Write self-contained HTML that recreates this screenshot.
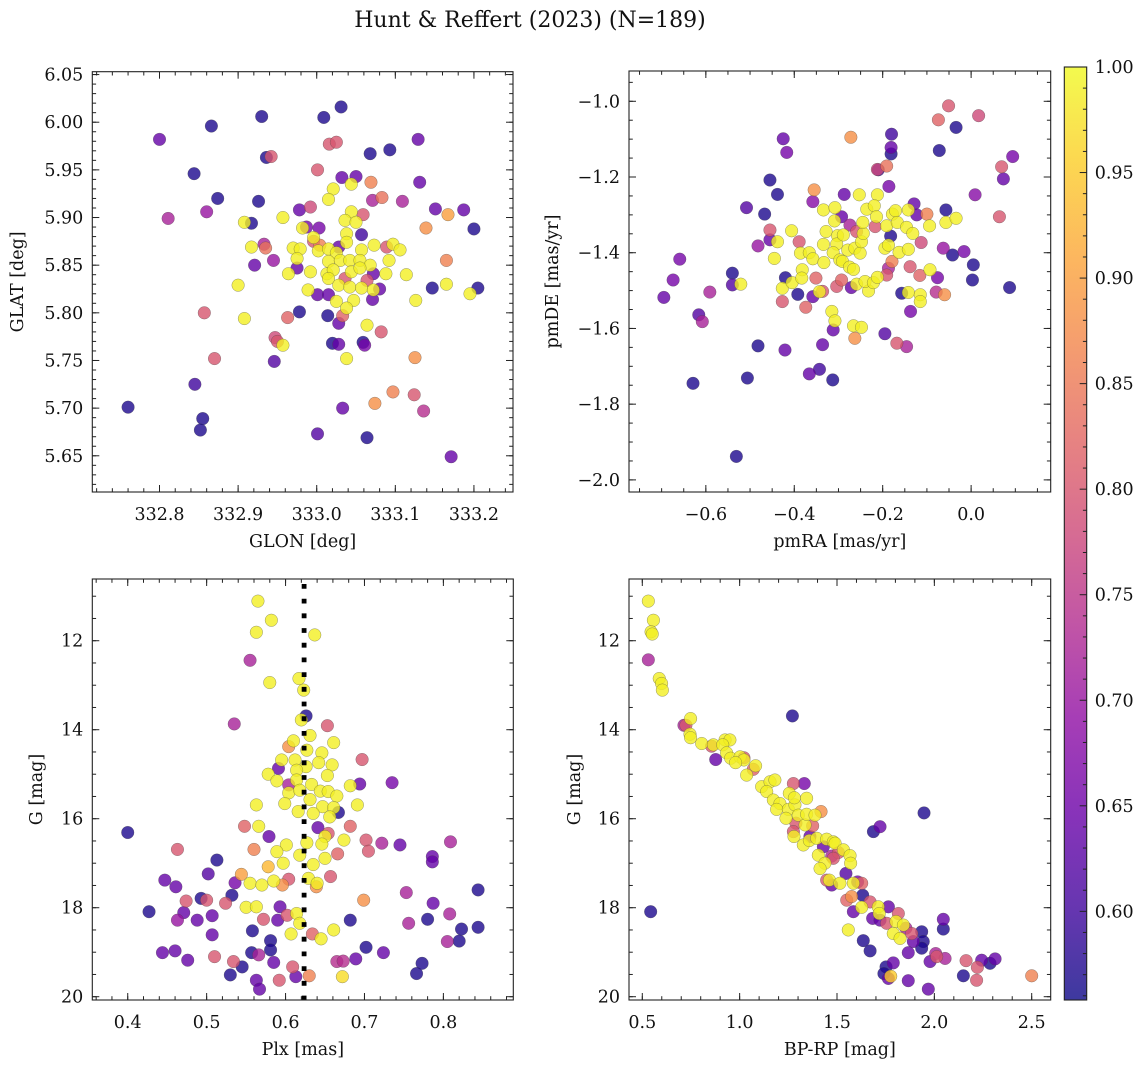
<!DOCTYPE html>
<html><head><meta charset="utf-8"><style>
html,body{margin:0;padding:0;background:#fff;}
svg text{font-family:"DejaVu Serif","Liberation Serif",serif;fill:#111;}
</style></head><body>
<svg id="fig" width="1148" height="1067" viewBox="0 0 1148 1067" xmlns="http://www.w3.org/2000/svg">
<defs>
<linearGradient id="plasmaGrad" x1="0" y1="1" x2="0" y2="0">
<stop offset="0" stop-color="#0d0887"/><stop offset="0.1" stop-color="#41049d"/><stop offset="0.2" stop-color="#6a00a8"/><stop offset="0.3" stop-color="#8f0da4"/><stop offset="0.4" stop-color="#b12a90"/><stop offset="0.5" stop-color="#cc4778"/><stop offset="0.6" stop-color="#e16462"/><stop offset="0.7" stop-color="#f2844b"/><stop offset="0.8" stop-color="#fca636"/><stop offset="0.9" stop-color="#fcce25"/><stop offset="1" stop-color="#f0f921"/>
</linearGradient>
</defs>
<text x="530" y="27" font-size="22" text-anchor="middle">Hunt &amp; Reffert (2023) (N=189)</text>
</svg>
<script>
// ---------- Panel 1: GLON vs GLAT ----------
const glon = [333.031,332.930,333.009,332.866,332.800,333.129,333.016,333.025,332.936,332.942,333.068,333.093,332.844,333.001,333.032,333.050,333.131,333.069,332.874,332.926,332.860,332.811,332.978,332.992,333.071,333.083,333.109,333.151,333.187,333.167,333.139,333.200,333.059,332.917,333.057,332.933,332.935,332.921,332.945,332.975,333.165,333.147,333.205,333.001,333.015,333.071,333.080,332.978,332.857,333.014,333.028,333.033,332.963,333.082,332.947,332.950,333.020,333.028,333.059,333.061,332.946,332.870,333.125,332.845,332.760,333.097,333.124,333.074,333.033,333.136,332.855,332.852,333.001,333.064,333.171,333.004,332.996,333.089,333.028,333.003,332.987,333.072,333.064,333.036,
333.044,333.021,333.015,332.957,332.908,333.044,333.036,333.050,332.982,333.038,332.996,332.917,332.970,332.979,333.002,333.015,333.025,333.038,333.057,333.073,333.097,333.106,333.092,332.975,333.015,333.030,333.042,333.055,333.068,332.964,332.992,333.013,333.021,333.044,333.055,333.088,333.114,333.015,333.028,333.042,333.057,333.072,332.900,332.989,333.165,333.195,333.025,333.047,333.038,333.126,333.064,332.908,332.957,333.038];
const glat = [6.016,6.006,6.005,5.996,5.982,5.982,5.977,5.979,5.963,5.964,5.967,5.971,5.946,5.950,5.942,5.943,5.937,5.937,5.920,5.917,5.906,5.899,5.908,5.911,5.918,5.921,5.917,5.909,5.908,5.903,5.889,5.888,5.903,5.894,5.882,5.872,5.868,5.850,5.855,5.847,5.855,5.826,5.826,5.819,5.819,5.814,5.825,5.801,5.800,5.797,5.789,5.797,5.795,5.780,5.774,5.770,5.768,5.767,5.769,5.766,5.749,5.752,5.753,5.725,5.701,5.717,5.714,5.705,5.700,5.697,5.689,5.677,5.673,5.669,5.649,5.871,5.875,5.869,5.869,5.889,5.890,5.841,5.834,5.836,
5.935,5.930,5.919,5.900,5.895,5.906,5.897,5.895,5.889,5.883,5.879,5.869,5.868,5.867,5.865,5.867,5.863,5.874,5.866,5.871,5.872,5.866,5.855,5.857,5.854,5.855,5.855,5.855,5.850,5.841,5.843,5.841,5.845,5.843,5.847,5.841,5.840,5.836,5.829,5.827,5.826,5.824,5.829,5.824,5.830,5.820,5.812,5.813,5.805,5.813,5.787,5.794,5.766,5.752];
const prob1 = [.57,.57,.57,.57,.64,.64,.80,.80,.57,.80,.57,.57,.57,.80,.64,.64,.64,.86,.57,.57,.70,.72,.64,.78,.72,.84,.72,.64,.64,.90,.88,.57,.80,.57,.60,.72,.84,.64,.70,.64,.86,.57,.57,.64,.64,.64,.64,.57,.80,.57,.64,.82,.82,.80,.78,.80,.57,.64,.57,.66,.62,.80,.88,.60,.57,.86,.80,.88,.64,.74,.57,.57,.62,.57,.64,.86,.80,.80,.64,.66,.66,.64,.80,.80,
.99,.99,.99,.99,.99,.99,.99,.99,.99,.99,.99,.99,.99,.99,.99,.99,.99,.99,.99,.99,.99,.99,.99,.99,.99,.99,.99,.99,.99,.99,.99,.99,.99,.99,.99,.99,.99,.99,.99,.99,.99,.99,.99,.99,.99,.99,.99,.99,.99,.99,.99,.99,.99,.99];

// ---------- Panel 2: pmRA vs pmDE ----------
const pmra = [-0.051,-0.074,0.017,-0.034,-0.272,-0.425,-0.417,-0.180,-0.181,-0.181,-0.072,-0.212,-0.191,-0.210,0.069,0.094,0.073,-0.455,-0.186,-0.438,-0.355,-0.287,0.009,-0.508,-0.358,-0.467,-0.057,-0.129,-0.123,-0.100,0.064,-0.293,-0.274,-0.217,-0.259,-0.182,-0.455,-0.455,-0.482,-0.389,-0.113,-0.063,-0.042,-0.016,0.005,0.003,0.087,-0.076,-0.079,-0.060,-0.179,-0.187,-0.138,-0.116,-0.191,-0.659,-0.674,-0.695,-0.591,-0.540,-0.540,-0.616,-0.608,-0.420,-0.392,-0.427,-0.374,-0.351,-0.358,-0.336,-0.293,-0.304,-0.271,-0.157,-0.137,-0.312,-0.195,-0.168,-0.146,-0.482,-0.421,-0.336,-0.366,-0.343,-0.313,-0.506,-0.629,-0.531,-0.263,
-0.521,-0.438,-0.445,-0.406,-0.427,-0.405,-0.382,-0.383,-0.386,-0.366,-0.358,-0.333,-0.334,-0.334,-0.308,-0.328,-0.309,-0.302,-0.304,-0.312,-0.297,-0.289,-0.279,-0.291,-0.275,-0.266,-0.263,-0.251,-0.248,-0.244,-0.253,-0.212,-0.236,-0.219,-0.214,-0.245,-0.259,-0.232,-0.240,-0.221,-0.212,-0.195,-0.187,-0.191,-0.178,-0.171,-0.167,-0.163,-0.142,-0.146,-0.132,-0.142,-0.142,-0.115,-0.115,-0.094,-0.057,-0.034,-0.093,-0.315,-0.308,-0.266,-0.248,-0.343];
const pmde = [-1.012,-1.049,-1.038,-1.069,-1.095,-1.099,-1.135,-1.087,-1.122,-1.139,-1.130,-1.180,-1.171,-1.181,-1.173,-1.146,-1.205,-1.208,-1.225,-1.246,-1.234,-1.246,-1.247,-1.281,-1.265,-1.298,-1.287,-1.271,-1.300,-1.298,-1.305,-1.305,-1.327,-1.331,-1.344,-1.356,-1.340,-1.366,-1.382,-1.371,-1.373,-1.388,-1.406,-1.397,-1.432,-1.472,-1.492,-1.466,-1.504,-1.511,-1.423,-1.441,-1.437,-1.460,-1.459,-1.417,-1.472,-1.518,-1.504,-1.454,-1.485,-1.564,-1.582,-1.466,-1.510,-1.529,-1.544,-1.467,-1.516,-1.502,-1.472,-1.489,-1.492,-1.507,-1.555,-1.604,-1.614,-1.639,-1.648,-1.646,-1.657,-1.643,-1.720,-1.708,-1.736,-1.731,-1.745,-1.938,-1.626,
-1.483,-1.371,-1.415,-1.342,-1.494,-1.479,-1.445,-1.467,-1.401,-1.400,-1.416,-1.426,-1.378,-1.287,-1.281,-1.344,-1.316,-1.355,-1.377,-1.400,-1.419,-1.353,-1.393,-1.423,-1.438,-1.444,-1.388,-1.401,-1.371,-1.349,-1.247,-1.247,-1.285,-1.276,-1.305,-1.320,-1.483,-1.501,-1.476,-1.479,-1.465,-1.388,-1.380,-1.329,-1.298,-1.289,-1.320,-1.399,-1.287,-1.333,-1.349,-1.391,-1.505,-1.511,-1.529,-1.329,-1.320,-1.309,-1.445,-1.555,-1.580,-1.593,-1.597,-1.503];
const prob2 = [.80,.82,.78,.57,.88,.64,.66,.60,.64,.57,.57,.78,.84,.60,.80,.66,.64,.57,.66,.57,.88,.64,.68,.62,.68,.57,.57,.64,.64,.86,.80,.64,.72,.80,.80,.57,.80,.64,.70,.80,.78,.70,.57,.66,.57,.57,.57,.66,.74,.88,.86,.72,.80,.82,.80,.66,.66,.64,.72,.57,.62,.62,.72,.57,.57,.80,.82,.82,.64,.80,.82,.80,.64,.57,.66,.64,.62,.80,.72,.57,.64,.64,.64,.60,.57,.57,.57,.57,.88,
.99,.99,.99,.99,.99,.99,.99,.99,.99,.99,.99,.99,.99,.99,.99,.99,.99,.99,.99,.99,.99,.99,.99,.99,.99,.99,.99,.99,.99,.99,.99,.99,.99,.99,.99,.99,.99,.99,.99,.99,.99,.99,.99,.99,.99,.99,.99,.99,.99,.99,.99,.99,.99,.99,.99,.99,.99,.99,.99,.99,.99,.99,.99,.99];

// ---------- Panel 3: Plx vs G ----------
const plx = [0.565,0.582,0.563,0.637,0.580,0.617,0.623,0.620,0.610,0.631,0.661,0.627,0.646,0.595,0.612,0.659,0.642,0.626,0.578,0.589,0.614,0.653,0.614,0.633,0.682,0.604,0.618,0.644,0.654,0.665,0.599,0.631,0.647,0.661,0.563,0.691,0.616,0.635,0.656,0.566,0.650,0.674,0.601,0.627,0.646,0.589,0.618,0.650,0.597,0.635,0.578,0.629,0.640,0.555,0.570,0.585,0.614,0.618,0.550,0.563,0.607,0.645,0.661,0.672,
0.555,0.535,0.626,0.653,0.604,0.591,0.697,0.694,0.735,0.604,0.667,0.400,0.548,0.641,0.682,0.579,0.654,0.463,0.560,0.702,0.722,0.745,0.809,0.705,0.666,0.513,0.786,0.786,0.502,0.544,0.447,0.461,0.536,0.604,0.657,0.639,0.596,0.532,0.474,0.493,0.500,0.524,0.699,0.753,0.844,0.427,0.471,0.463,0.488,0.507,0.572,0.590,0.593,0.602,0.682,0.756,0.780,0.787,0.808,0.507,0.558,0.581,0.581,0.823,0.844,0.634,0.805,0.820,0.444,0.460,0.476,0.510,0.534,0.545,0.557,0.566,0.585,0.702,0.724,0.665,0.673,0.689,0.773,0.766,0.530,0.563,0.567,0.592,0.609,0.613,0.630];
const gmag3 = [11.11,11.54,11.81,11.87,12.94,12.85,13.11,13.78,14.25,14.13,14.29,14.46,14.52,14.68,14.68,14.79,14.74,14.83,15.00,15.15,14.91,15.03,15.13,15.23,15.26,15.42,15.36,15.38,15.39,15.49,15.66,15.57,15.73,15.75,15.69,15.69,15.84,15.88,15.96,16.17,16.40,16.48,16.59,16.54,16.57,16.74,16.82,16.89,17.00,17.03,17.08,17.34,17.45,17.45,17.49,17.40,18.13,18.35,17.99,17.98,18.59,18.70,18.50,19.55,
12.44,13.87,13.69,13.91,14.38,14.87,14.67,15.22,15.19,15.24,15.86,16.31,16.17,16.20,16.17,16.40,16.33,16.69,16.69,16.48,16.55,16.59,16.52,16.73,16.79,16.93,16.85,16.97,17.24,17.25,17.38,17.53,17.44,17.36,17.30,17.53,17.49,17.72,17.85,17.79,17.83,17.90,17.83,17.66,17.60,18.09,18.11,18.28,18.28,18.18,18.26,18.28,17.98,18.17,18.28,18.35,18.26,17.90,18.14,18.61,18.52,18.74,18.95,18.48,18.44,18.59,18.76,18.75,19.01,18.97,19.18,19.10,19.21,19.33,19.01,19.06,19.23,18.89,19.01,19.21,19.20,19.15,19.25,19.48,19.51,19.63,19.83,19.63,19.33,19.55,19.53];
const prob3 = [.99,.99,.99,.99,.99,.99,.99,.99,.99,.99,.99,.99,.99,.99,.99,.99,.99,.99,.99,.99,.99,.99,.99,.99,.99,.99,.99,.99,.99,.99,.99,.99,.99,.99,.99,.99,.99,.99,.99,.99,.99,.99,.99,.99,.99,.99,.99,.99,.99,.99,.93,.99,.99,.99,.99,.99,.99,.99,.99,.99,.99,.99,.99,.97,
.72,.72,.57,.80,.88,.64,.80,.64,.66,.72,.57,.57,.82,.64,.82,.64,.80,.80,.86,.80,.72,.64,.72,.80,.82,.57,.64,.64,.62,.90,.64,.64,.66,.80,.80,.88,.88,.57,.80,.57,.80,.80,.88,.72,.57,.57,.64,.70,.64,.64,.80,.64,.64,.80,.57,.72,.57,.64,.72,.64,.57,.57,.57,.57,.57,.82,.72,.57,.64,.64,.64,.80,.80,.57,.57,.72,.64,.57,.64,.74,.74,.64,.57,.57,.57,.64,.64,.80,.80,.64,.86];

// ---------- Panel 4: BP-RP vs G ----------
const bprp = [0.531,0.557,0.545,0.551,0.587,0.599,0.603,0.748,0.745,0.748,0.805,0.865,0.925,0.950,0.913,0.933,0.954,1.002,1.022,0.979,1.036,1.082,1.113,1.156,1.181,1.139,1.173,1.207,1.190,1.250,1.284,1.255,1.281,1.344,1.238,1.301,1.336,1.344,1.387,1.279,1.327,1.358,1.396,1.447,1.481,1.404,1.438,1.413,1.490,1.533,1.567,1.570,1.461,1.515,1.584,1.627,1.712,1.717,1.803,1.841,1.789,1.824,1.558,1.776,
0.531,0.714,0.724,0.877,0.856,1.022,1.070,1.276,1.332,1.271,1.418,1.289,1.375,1.276,1.361,1.430,1.473,1.507,1.481,1.546,1.447,1.473,1.606,1.627,1.632,1.550,1.575,1.670,1.764,1.584,1.683,1.721,1.755,1.815,1.854,1.884,1.935,1.943,1.935,1.892,1.866,1.635,1.670,2.046,2.046,2.007,2.055,1.978,1.969,1.866,1.789,1.752,1.741,1.764,1.687,1.721,1.947,0.543,2.149,2.163,2.221,2.217,2.243,2.286,2.312,2.500,2.012];
const gmag4 = [11.11,11.54,11.80,11.85,12.85,12.96,13.11,13.75,14.10,14.18,14.31,14.34,14.23,14.23,14.34,14.52,14.64,14.61,14.68,14.74,15.02,14.81,15.28,15.17,15.13,15.39,15.58,15.66,15.79,15.79,15.69,15.43,15.53,15.54,15.99,15.92,16.14,15.90,15.92,16.40,16.59,16.49,16.44,16.46,16.52,16.82,17.00,17.12,16.55,16.70,16.83,17.00,17.38,17.45,17.45,17.99,17.98,18.13,18.31,18.39,18.58,18.69,18.50,19.54,
12.43,13.90,13.90,14.67,14.37,14.63,14.89,15.21,15.21,13.69,15.84,16.10,16.16,16.29,16.40,16.63,16.84,16.76,16.89,17.23,17.38,17.49,17.42,17.45,17.72,17.83,17.75,17.87,17.98,18.09,18.24,18.28,18.35,18.13,18.46,18.58,18.54,18.76,18.91,18.76,19.01,18.74,18.97,18.26,18.48,19.03,19.14,19.21,19.83,19.64,19.24,19.33,19.48,19.59,16.29,16.18,15.87,18.09,19.53,19.19,19.34,19.63,19.18,19.25,19.15,19.53,19.10];
const prob4 = [.99,.99,.99,.99,.99,.99,.99,.99,.99,.99,.99,.99,.99,.99,.99,.99,.99,.99,.99,.99,.99,.99,.99,.99,.99,.99,.99,.99,.99,.99,.99,.99,.99,.99,.99,.99,.99,.99,.99,.99,.99,.99,.99,.99,.99,.99,.99,.99,.99,.99,.99,.99,.99,.99,.99,.99,.99,.99,.99,.99,.99,.99,.99,.95,
.72,.72,.80,.64,.80,.80,.82,.80,.66,.57,.88,.80,.82,.80,.64,.64,.72,.80,.80,.62,.80,.64,.66,.82,.57,.82,.88,.80,.64,.64,.64,.64,.80,.80,.72,.80,.57,.57,.57,.64,.64,.57,.57,.64,.57,.72,.72,.64,.64,.64,.64,.57,.57,.64,.57,.64,.57,.57,.57,.80,.80,.80,.64,.57,.64,.86,.80];

const plxMean = 0.6235;
const cbTicks = [0.60,0.65,0.70,0.75,0.80,0.85,0.90,0.95,1.00];
const vmin = 0.558, vmax = 1.0;

const NS = 'http://www.w3.org/2000/svg';
const svg = document.getElementById('fig');
const PLASMA = [[13,8,135],[65,4,157],[106,0,168],[143,13,164],[177,42,144],[204,71,120],[225,100,98],[242,132,75],[252,166,54],[252,206,37],[240,249,33]];
const FS = 17.5;
function plasma(t){
  t = Math.max(0, Math.min(1, t));
  const s = t*10, i = Math.min(9, Math.floor(s)), f = s - i;
  const a = PLASMA[i], b = PLASMA[i+1];
  return 'rgb(' + [0,1,2].map(k => Math.round(a[k] + (b[k]-a[k])*f)).join(',') + ')';
}
function mk(tag, attrs, parent){
  const e = document.createElementNS(NS, tag);
  for (const k in attrs) e.setAttribute(k, attrs[k]);
  (parent || svg).appendChild(e);
  return e;
}
function fmt(v, d){ const s = Math.abs(v).toFixed(d); return (v < -1e-9 ? '\u2212' : '') + s; }

function panel(o){
  const [x0,y0,x1,y1] = o.box;
  const g = mk('g', {});
  
  
  const sx = v => x0 + (v - o.xlim[0])/(o.xlim[1]-o.xlim[0])*(x1-x0);
  const sy = v => y1 - (v - o.ylim[0])/(o.ylim[1]-o.ylim[0])*(y1-y0);
  const idx = o.x.map((_, i) => i).slice(0, Math.min(o.x.length, o.y.length, o.c.length));
  idx.sort((a, b) => o.c[a] - o.c[b]);
  const pts = mk('g', {}, g);
  
  
  idx.forEach(i => {
    const c = mk('circle', {cx: sx(o.x[i]).toFixed(2), cy: sy(o.y[i]).toFixed(2), r: 6.3, fill: plasma((o.c[i]-vmin)/(vmax-vmin)), 'fill-opacity': 0.8, stroke: '#444', 'stroke-width': 0.5, 'stroke-opacity': 0.55}, pts);
    
    
  });
  if (o.vline !== undefined) {
    const vl = mk('line', {x1: sx(o.vline), x2: sx(o.vline), y1: y0 + 5, y2: y1, stroke: '#000', 'stroke-width': 4.8, 'stroke-dasharray': '4.8 9.9'}, g);
    
    
  }
  const fr = mk('rect', {x: x0, y: y0, width: x1-x0, height: y1-y0, fill: 'none', stroke: '#222', 'stroke-width': 1.1}, g);
  
  
  const tk = mk('g', {stroke: '#222', 'stroke-width': 1}, g);
  
  
  function ticks(lim, step, len, horiz){
    const lo = Math.min(lim[0], lim[1]), hi = Math.max(lim[0], lim[1]);
    for (let k = Math.ceil(lo/step - 1e-6); k <= Math.floor(hi/step + 1e-6); k++) {
      const v = k*step;
      if (horiz) { const X = sx(v); mk('line', {x1: X, x2: X, y1: y1, y2: y1-len}, tk); mk('line', {x1: X, x2: X, y1: y0, y2: y0+len}, tk); }
      else { const Y = sy(v); mk('line', {x1: x0, x2: x0+len, y1: Y, y2: Y}, tk); mk('line', {x1: x1, x2: x1-len, y1: Y, y2: Y}, tk); }
    }
  }
  ticks(o.xlim, o.xminor, 3.8, true); ticks(o.xlim, o.xmajor, 7, true);
  ticks(o.ylim, o.yminor, 3.8, false); ticks(o.ylim, o.ymajor, 7, false);
  o.xlabels.forEach(v => {
    const t = mk('text', {x: sx(v), y: y1 + 28, 'font-size': FS, 'text-anchor': 'middle'}, g);
    t.textContent = fmt(v, o.xd);
    
    
  });
  o.ylabels.forEach(v => {
    const t = mk('text', {x: x0 - 9, y: sy(v) + 6, 'font-size': FS, 'text-anchor': 'end'}, g);
    t.textContent = fmt(v, o.yd);
    
    
  });
  const xt = mk('text', {x: (x0+x1)/2, y: y1 + 55, 'font-size': FS, 'text-anchor': 'middle'}, g);
  xt.textContent = o.xtitle;
  
  
  const yt = mk('text', {x: 0, y: 0, 'font-size': FS, 'text-anchor': 'middle', transform: 'translate(' + o.ytx + ',' + ((y0+y1)/2) + ') rotate(-90)'}, g);
  yt.textContent = o.ytitle;
  
  
}

panel({name: 'glon-glat-panel', box: [92.3,71.7,513,492], xlim: [332.7145,333.2497], ylim: [5.612,6.053],
  x: glon, y: glat, c: prob1, xmajor: 0.1, xminor: 0.02, ymajor: 0.05, yminor: 0.01,
  xlabels: [332.8,332.9,333.0,333.1,333.2], xd: 1, ylabels: [5.65,5.70,5.75,5.80,5.85,5.90,5.95,6.00,6.05], yd: 2,
  xtitle: 'GLON [deg]', ytitle: 'GLAT [deg]', ytx: 23});
panel({name: 'proper-motion-panel', box: [629,71,1050.7,492], xlim: [-0.7738,0.180], ylim: [-2.032,-0.920],
  x: pmra, y: pmde, c: prob2, xmajor: 0.2, xminor: 0.05, ymajor: 0.2, yminor: 0.05,
  xlabels: [-0.6,-0.4,-0.2,0.0], xd: 1, ylabels: [-2.0,-1.8,-1.6,-1.4,-1.2,-1.0], yd: 1,
  xtitle: 'pmRA [mas/yr]', ytitle: 'pmDE [mas/yr]', ytx: 558});
panel({name: 'parallax-panel', box: [92.3,579,513.3,1000], xlim: [0.3551,0.8886], ylim: [20.074,10.613],
  x: plx, y: gmag3, c: prob3, xmajor: 0.1, xminor: 0.02, ymajor: 2, yminor: 0.5, vline: plxMean,
  xlabels: [0.4,0.5,0.6,0.7,0.8], xd: 1, ylabels: [12,14,16,18,20], yd: 0,
  xtitle: 'Plx [mas]', ytitle: 'G [mag]', ytx: 42});
panel({name: 'cmd-panel', box: [629,579,1050.7,1000], xlim: [0.4317,2.5976], ylim: [20.074,10.613],
  x: bprp, y: gmag4, c: prob4, xmajor: 0.5, xminor: 0.1, ymajor: 2, yminor: 0.5,
  xlabels: [0.5,1.0,1.5,2.0,2.5], xd: 1, ylabels: [12,14,16,18,20], yd: 0,
  xtitle: 'BP-RP [mag]', ytitle: 'G [mag]', ytx: 580});

// ---------- Colorbar ----------
(function(){
  const cx0 = 1064.3, cx1 = 1086.7, cy0 = 67, cy1 = 1000;
  const cy = v => cy1 - (v - vmin)/(vmax - vmin)*(cy1 - cy0);
  const g = mk('g', {});
  
  
  mk('rect', {x: cx0, y: cy0, width: cx1-cx0, height: cy1-cy0, fill: 'url(#plasmaGrad)', 'fill-opacity': 0.8}, g);
  mk('rect', {x: cx0, y: cy0, width: cx1-cx0, height: cy1-cy0, fill: 'none', stroke: '#222', 'stroke-width': 1.1}, g);
  for (let k = Math.ceil(vmin*100); k <= 100; k++) {
    const Y = cy(k/100), len = (k % 5 === 0) ? 7 : 3.8;
    mk('line', {x1: cx1, x2: cx1 - len, y1: Y, y2: Y, stroke: '#222', 'stroke-width': 1}, g);
  }
  cbTicks.forEach(v => {
    const t = mk('text', {x: cx1 + 8, y: cy(v) + 6, 'font-size': FS}, g);
    t.textContent = v.toFixed(2);
    
    
  });
})();
</script>
</body></html>
